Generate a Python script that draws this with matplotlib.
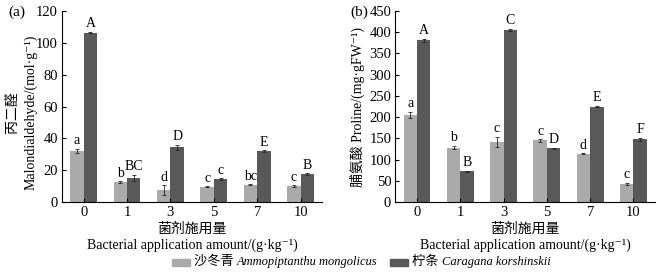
import matplotlib
matplotlib.use("Agg")
import matplotlib.pyplot as plt
from matplotlib.patches import Rectangle
import numpy as np

plt.rcParams['font.family'] = ['Liberation Serif', 'DejaVu Serif', 'Noto Sans CJK SC']

doses = ["0", "1", "3", "5", "7", "10"]

mda_sd = [32, 12.5, 7.5, 9.5, 11, 10]
mda_sd_err = [1.5, 0.5, 3, 0.3, 0.2, 0.5]
mda_ck = [106.5, 15, 34.5, 14.5, 32, 17.5]
mda_ck_err = [0.5, 2, 1.5, 0.5, 0.5, 0.5]
mda_sd_lab = ["a", "b", "d", "c", "bc", "c"]
mda_ck_lab = ["A", "BC", "D", "c", "E", "B"]

pro_sd = [205, 128, 142, 145, 114, 43]
pro_sd_err = [8, 4, 12, 3, 1, 2]
pro_ck = [381, 72, 406, 127, 225, 148]
pro_ck_err = [4, 1, 2, 1, 1, 4]
pro_sd_lab = ["a", "b", "c", "c", "d", "c"]
pro_ck_lab = ["A", "B", "C", "D", "E", "F"]

light = "#aaaaaa"
dark = "#595959"
w = 0.31
xlab = "菌剂施用量\nBacterial application amount/(g·kg⁻¹)"


def panel(ax, sd, sde, ck, cke, sdl, ckl, ymax, step, off):
    x = np.arange(len(doses))
    ax.bar(x - w / 2, sd, w, color=light, yerr=sde, capsize=1.5,
           error_kw=dict(elinewidth=0.6, capthick=0.6, ecolor="#222222"))
    ax.bar(x + w / 2, ck, w, color=dark, yerr=cke, capsize=1.5,
           error_kw=dict(elinewidth=0.6, capthick=0.6, ecolor="#222222"))
    for i in range(len(doses)):
        ax.text(x[i] - w / 2, sd[i] + sde[i] + off, sdl[i], ha="center",
                va="bottom", fontsize=10)
        ax.text(x[i] + w / 2, ck[i] + cke[i] + off, ckl[i], ha="center",
                va="bottom", fontsize=10)
    ax.set_xlim(-0.5, 5.5)
    ax.set_ylim(0, ymax)
    ax.set_yticks(np.arange(0, ymax + 1, step))
    ax.set_xticks(x)
    ax.set_xticklabels(doses)
    ax.spines["top"].set_visible(False)
    ax.spines["right"].set_visible(False)
    for s in ["left", "bottom"]:
        ax.spines[s].set_linewidth(0.8)
    ax.tick_params(direction="in", length=3, width=0.8, labelsize=10.5, pad=3)
    ax.set_xlabel(xlab, fontsize=10, linespacing=1.35, labelpad=2)


fig = plt.figure(figsize=(6.59, 2.76), dpi=100)
ax1 = fig.add_axes([0.094, 0.268, 0.395, 0.692])
ax2 = fig.add_axes([0.600, 0.268, 0.394, 0.692])

panel(ax1, mda_sd, mda_sd_err, mda_ck, mda_ck_err, mda_sd_lab, mda_ck_lab,
      120, 20, 1)
panel(ax2, pro_sd, pro_sd_err, pro_ck, pro_ck_err, pro_sd_lab, pro_ck_lab,
      450, 50, 4)

# left y label: two centred lines
fig.text(0.019, 0.594, "丙二醛", rotation=90, fontsize=10,
         ha="center", va="center")
fig.text(0.046, 0.594, "Malondialdehyde/(mol·g⁻¹)", rotation=90, fontsize=10,
         ha="center", va="center")
ax2.set_ylabel("脯氨酸 Proline/(mg·gFW⁻¹)", fontsize=10, labelpad=3)

fig.text(0.012, 0.955, "(a)", fontsize=11, va="center")
fig.text(0.532, 0.955, "(b)", fontsize=11, va="center")

# legend drawn by hand so the Latin names can be italic
ly = 0.05
for x0, col, cn, latin in [(0.261, light, "沙冬青 ", "Ammopiptanthu mongolicus"),
                           (0.592, dark, "柠条 ", "Caragana korshinskii")]:
    fig.add_artist(Rectangle((x0, ly - 0.013), 0.027, 0.026, color=col,
                             transform=fig.transFigure))
    t = fig.text(x0 + 0.033, ly, cn, fontsize=9.5, va="center")
    fig.canvas.draw()
    bb = t.get_window_extent().transformed(fig.transFigure.inverted())
    fig.text(bb.x1, ly, latin, fontsize=9, va="center", style="italic")

fig.savefig("out.png", dpi=100)
